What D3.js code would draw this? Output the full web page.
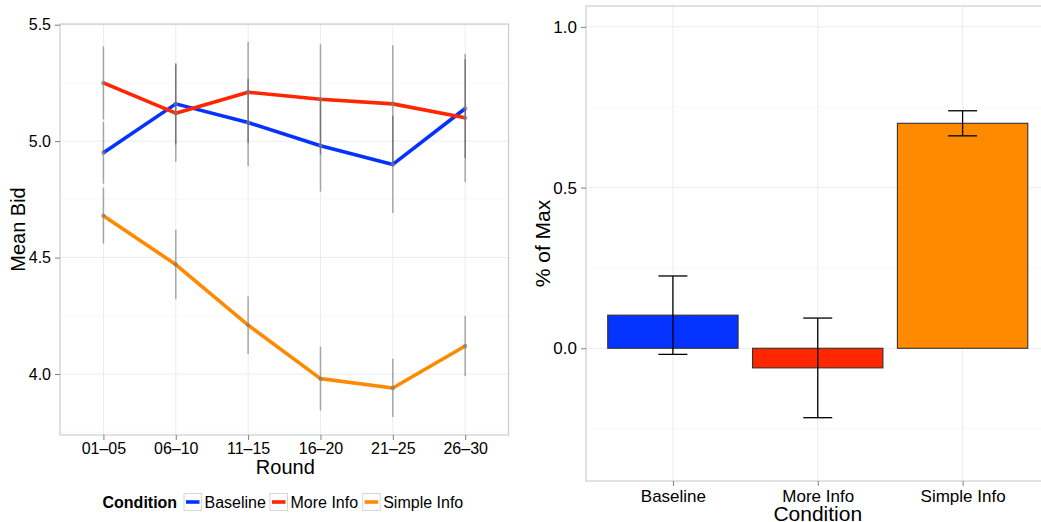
<!DOCTYPE html>
<html>
<head>
<meta charset="utf-8">
<script src="https://cdn.jsdelivr.net/npm/d3@7"></script>
<style>
  body { margin: 0; background: #fff; }
  svg { display: block; font-family: "Liberation Sans", Arial, Helvetica, sans-serif; }
</style>
</head>
<body>
<svg id="chart" width="1041" height="522"></svg>
<script>
const rounds = ['01–05', '06–10', '11–15', '16–20', '21–25', '26–30'];
const conditions = ['Baseline', 'More Info', 'Simple Info'];
const colors = ['#0433ff', '#ff2600', '#ff8a00'];

// mean bid per round, one array per condition
const baselineBid = [4.95, 5.16, 5.08, 4.98, 4.90, 5.14];
const moreInfoBid = [5.25, 5.12, 5.21, 5.18, 5.16, 5.10];
const simpleInfoBid = [4.68, 4.47, 4.21, 3.98, 3.94, 4.12];
// half width of the error bars
const baselineErr = [0.133, 0.175, 0.188, 0.197, 0.209, 0.212];
const moreInfoErr = [0.157, 0.209, 0.217, 0.236, 0.252, 0.275];
const simpleInfoErr = [0.120, 0.149, 0.124, 0.137, 0.125, 0.129];

// right panel
const pctMax = [0.103, -0.061, 0.700];
const pctErr = [0.122, 0.155, 0.039];

const leftTicks = [4.0, 4.5, 5.0, 5.5];
const leftMinor = [3.75, 4.25, 4.75, 5.25];
const rightTicks = [0.0, 0.5, 1.0];
const rightMinor = [-0.25, 0.25, 0.75];

const series = [
  { name: conditions[0], bid: baselineBid, err: baselineErr, color: colors[0] },
  { name: conditions[1], bid: moreInfoBid, err: moreInfoErr, color: colors[1] },
  { name: conditions[2], bid: simpleInfoBid, err: simpleInfoErr, color: colors[2] }
];

const svg = d3.select('#chart');
const borderCol = '#c4c4c4';
const gridMajor = '#ececec';
const gridMinor = '#f8f8f8';

// ---------- left panel: lines ----------
const L = { left: 60, right: 508.6, top: 24, bottom: 435 };
const lUnit = (L.right - L.left) / (rounds.length - 1 + 1.2);
const x = d3.scalePoint()
  .domain(rounds)
  .range([L.left + 0.6 * lUnit, L.right - 0.6 * lUnit]);
const y = d3.scaleLinear()
  .domain([3.738, 5.503])
  .range([L.bottom, L.top]);

const gl = svg.append('g');

gl.selectAll('line.minor').data(leftMinor).join('line')
  .attr('x1', L.left).attr('x2', L.right)
  .attr('y1', d => y(d)).attr('y2', d => y(d))
  .attr('stroke', gridMinor).attr('stroke-width', 1);
gl.selectAll('line.hmajor').data(leftTicks).join('line')
  .attr('x1', L.left).attr('x2', L.right)
  .attr('y1', d => y(d)).attr('y2', d => y(d))
  .attr('stroke', gridMajor).attr('stroke-width', 1);
gl.selectAll('line.vmajor').data(rounds).join('line')
  .attr('x1', d => x(d)).attr('x2', d => x(d))
  .attr('y1', L.top).attr('y2', L.bottom)
  .attr('stroke', gridMajor).attr('stroke-width', 1);

// error bars (semi transparent, darker where they overlap)
series.forEach(s => {
  gl.append('g').selectAll('line').data(rounds).join('line')
    .attr('x1', d => x(d)).attr('x2', d => x(d))
    .attr('y1', (d, i) => y(s.bid[i] - s.err[i]))
    .attr('y2', (d, i) => y(s.bid[i] + s.err[i]))
    .attr('stroke', '#000').attr('stroke-opacity', 0.3)
    .attr('stroke-width', 1.6);
});

const line = d3.line()
  .x(d => x(d.r))
  .y(d => y(d.v));

series.forEach(s => {
  gl.append('path')
    .datum(rounds.map((r, i) => ({ r, v: s.bid[i] })))
    .attr('d', line)
    .attr('fill', 'none')
    .attr('stroke', s.color)
    .attr('stroke-width', 3.6)
    .attr('stroke-linejoin', 'round');
});
series.forEach(s => {
  gl.append('g').selectAll('circle').data(rounds).join('circle')
    .attr('cx', d => x(d))
    .attr('cy', (d, i) => y(s.bid[i]))
    .attr('r', 2.2)
    .attr('fill', '#7a7a7a').attr('fill-opacity', 0.7);
});

gl.append('rect')
  .attr('x', L.left).attr('y', L.top)
  .attr('width', L.right - L.left).attr('height', L.bottom - L.top)
  .attr('fill', 'none').attr('stroke', borderCol).attr('stroke-width', 1);

const yAxisL = gl.append('g')
  .attr('transform', `translate(${L.left},0)`)
  .call(d3.axisLeft(y).tickValues(leftTicks).tickFormat(d3.format('.1f')).tickSize(5).tickPadding(4));
const xAxisL = gl.append('g')
  .attr('transform', `translate(0,${L.bottom})`)
  .call(d3.axisBottom(x).tickSize(5).tickPadding(3));
[yAxisL, xAxisL].forEach(a => {
  a.select('.domain').remove();
  a.selectAll('.tick line').attr('stroke', '#7f7f7f');
  a.selectAll('.tick text').attr('fill', '#000').style('font-size', '16px')
    .style('font-family', '"Liberation Sans", Arial, sans-serif');
});

gl.append('text')
  .attr('x', (L.left + L.right) / 2 + 1).attr('y', 473.5)
  .attr('text-anchor', 'middle').style('font-size', '20px')
  .text('Round');
gl.append('text')
  .attr('transform', `translate(25,${(L.top + L.bottom) / 2}) rotate(-90)`)
  .attr('text-anchor', 'middle').style('font-size', '20px')
  .text('Mean Bid');

// legend
const lg = gl.append('g').attr('transform', 'translate(0,507.5)');
lg.append('text').attr('x', 102.5).attr('y', 0)
  .style('font-size', '16px').style('font-weight', 'bold').text('Condition');
const keyX = [184, 270, 362.7];
conditions.forEach((c, i) => {
  const kx = keyX[i];
  lg.append('rect').attr('x', kx).attr('y', -14).attr('width', 17.5).attr('height', 17)
    .attr('fill', '#fff').attr('stroke', '#d6d6d6').attr('stroke-width', 1);
  lg.append('line').attr('x1', kx + 2).attr('x2', kx + 15.5)
    .attr('y1', -5.5).attr('y2', -5.5)
    .attr('stroke', colors[i]).attr('stroke-width', 3.6);
  lg.append('text').attr('x', kx + 20.5).attr('y', 0)
    .style('font-size', '16px').text(c);
});

// ---------- right panel: bars ----------
const R = { left: 586, right: 1049.5, top: 6, bottom: 481 };
const rUnit = (R.right - R.left) / (conditions.length - 1 + 1.2);
const xr = d3.scalePoint()
  .domain(conditions)
  .range([R.left + 0.6 * rUnit, R.right - 0.6 * rUnit]);
const yr = d3.scaleLinear()
  .domain([-0.413, 1.065])
  .range([R.bottom, R.top]);

const gr = svg.append('g');
gr.selectAll('line.minor').data(rightMinor).join('line')
  .attr('x1', R.left).attr('x2', R.right)
  .attr('y1', d => yr(d)).attr('y2', d => yr(d))
  .attr('stroke', gridMinor).attr('stroke-width', 1);
gr.selectAll('line.hmajor').data(rightTicks).join('line')
  .attr('x1', R.left).attr('x2', R.right)
  .attr('y1', d => yr(d)).attr('y2', d => yr(d))
  .attr('stroke', gridMajor).attr('stroke-width', 1);
gr.selectAll('line.vmajor').data(conditions).join('line')
  .attr('x1', d => xr(d)).attr('x2', d => xr(d))
  .attr('y1', R.top).attr('y2', R.bottom)
  .attr('stroke', gridMajor).attr('stroke-width', 1);

const barW = 0.9 * rUnit;
gr.selectAll('rect.bar').data(conditions).join('rect')
  .attr('x', d => xr(d) - barW / 2)
  .attr('y', (d, i) => yr(Math.max(0, pctMax[i])))
  .attr('width', barW)
  .attr('height', (d, i) => Math.abs(yr(0) - yr(pctMax[i])))
  .attr('fill', (d, i) => colors[i])
  .attr('stroke', '#333').attr('stroke-width', 1.1);

const capW = 0.2 * rUnit;
conditions.forEach((c, i) => {
  const cx = xr(c), lo = yr(pctMax[i] - pctErr[i]), hi = yr(pctMax[i] + pctErr[i]);
  gr.append('line').attr('x1', cx).attr('x2', cx).attr('y1', lo).attr('y2', hi)
    .attr('stroke', '#000').attr('stroke-width', 1.3);
  [lo, hi].forEach(v => gr.append('line')
    .attr('x1', cx - capW / 2).attr('x2', cx + capW / 2).attr('y1', v).attr('y2', v)
    .attr('stroke', '#000').attr('stroke-width', 1.3));
});

gr.append('rect')
  .attr('x', R.left).attr('y', R.top)
  .attr('width', R.right - R.left).attr('height', R.bottom - R.top)
  .attr('fill', 'none').attr('stroke', borderCol).attr('stroke-width', 1);

const yAxisR = gr.append('g')
  .attr('transform', `translate(${R.left},0)`)
  .call(d3.axisLeft(yr).tickValues(rightTicks).tickFormat(d3.format('.1f')).tickSize(5).tickPadding(4));
const xAxisR = gr.append('g')
  .attr('transform', `translate(0,${R.bottom})`)
  .call(d3.axisBottom(xr).tickSize(5).tickPadding(4));
[yAxisR, xAxisR].forEach(a => {
  a.select('.domain').remove();
  a.selectAll('.tick line').attr('stroke', '#7f7f7f');
  a.selectAll('.tick text').attr('fill', '#000').style('font-size', '17px')
    .style('font-family', '"Liberation Sans", Arial, sans-serif');
});

gr.append('text')
  .attr('x', xr(conditions[1])).attr('y', 520.5)
  .attr('text-anchor', 'middle').style('font-size', '21px')
  .text('Condition');
gr.append('text')
  .attr('transform', `translate(550,${(R.top + R.bottom) / 2}) rotate(-90)`)
  .attr('text-anchor', 'middle').style('font-size', '21px')
  .text('% of Max');
</script>
</body>
</html>
